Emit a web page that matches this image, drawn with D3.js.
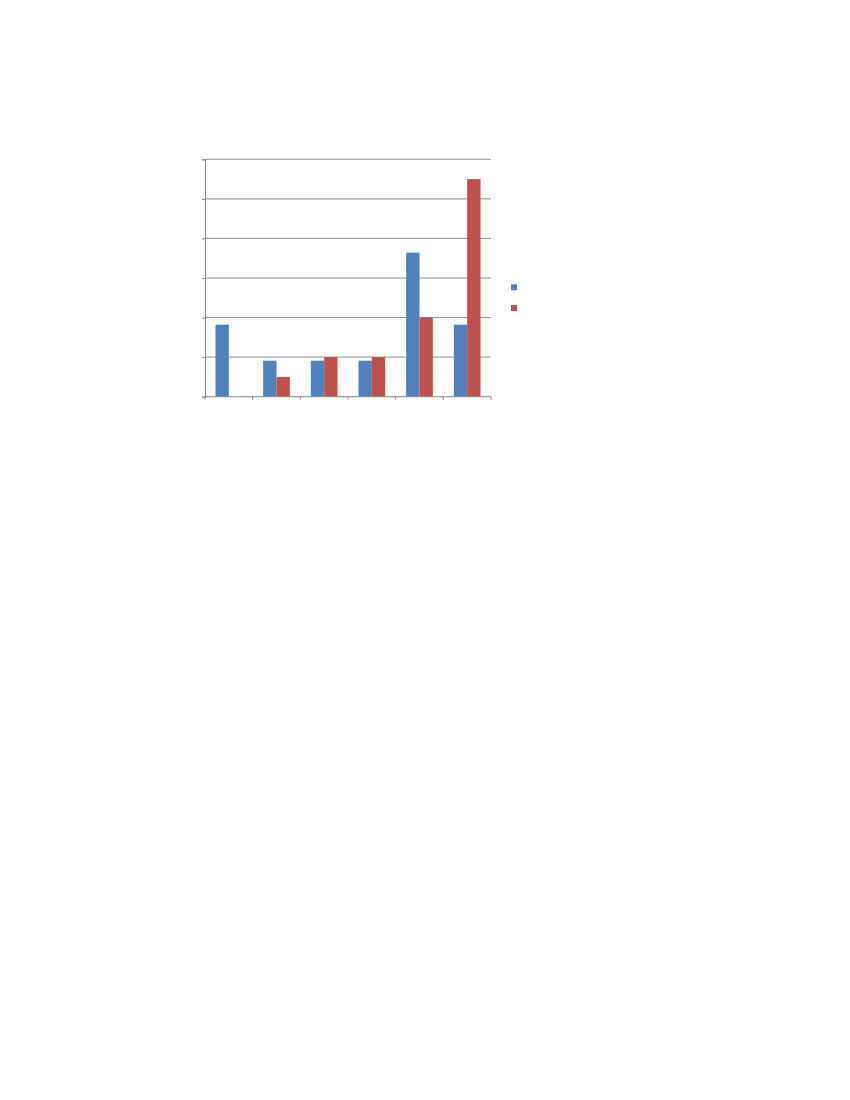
<!DOCTYPE html>
<html><head><meta charset="utf-8">
<script src="https://cdn.jsdelivr.net/npm/d3@7"></script>
<style>body{margin:0;background:#fff}svg{display:block}</style>
</head><body>
<svg id="c" width="850" height="1100"></svg>
<script>
const categories = ["c1","c2","c3","c4","c5","c6"];
const seriesNames = ["s1","s2"];
const seriesA = [18.2, 9.1, 9.1, 9.1, 36.4, 18.2];
const seriesB = [0, 5, 10, 10, 20, 55];
const yTicks = [0, 10, 20, 30, 40, 50, 60];
const colors = ["#4F81BD", "#C0504D"];

const svg = d3.select("#c");
const L = 205, R = 491, T = 159.3, B = 396.7;
const x = d3.scaleBand().domain(categories).range([L, R]).padding(0);
const bw = x.bandwidth();
const x1 = d3.scaleBand().domain(seriesNames).range([bw*0.22, bw*0.78]).padding(0);
const y = d3.scaleLinear().domain([0, 60]).range([B, T]);

// gridlines
svg.append("g").selectAll("line").data(yTicks.filter(d=>d>0)).join("line")
  .attr("x1", L).attr("x2", R).attr("y1", d=>y(d)).attr("y2", d=>y(d))
  .attr("stroke", "#8c8c8c").attr("stroke-width", 1);

// bars
const data = [seriesA, seriesB];
const g = svg.append("g");
data.forEach((vals, si) => {
  g.selectAll(".b"+si).data(categories).join("rect")
    .attr("x", c => x(c) + x1(seriesNames[si]))
    .attr("width", x1.bandwidth())
    .attr("y", (c,i) => y(vals[i]))
    .attr("height", (c,i) => B - y(vals[i]))
    .attr("fill", colors[si]);
});

// y axis
const ya = d3.axisLeft(y).tickValues(yTicks).tickSize(3).tickFormat("");
svg.append("g").attr("transform", `translate(${L},0)`).call(ya)
  .call(s => s.selectAll("line,path").attr("stroke", "#868686"));

// x axis
const xTickVals = categories.map(c => x(c)).concat([R]);
svg.append("g").selectAll("line").data(xTickVals).join("line")
  .attr("x1", d=>d).attr("x2", d=>d).attr("y1", B).attr("y2", B+3)
  .attr("stroke", "#868686");
svg.append("line").attr("x1", L).attr("x2", R).attr("y1", B).attr("y2", B)
  .attr("stroke", "#868686");

// legend
seriesNames.forEach((s, i) => {
  svg.append("rect").attr("x", 511).attr("y", 284.3 + i*20.7)
    .attr("width", 6).attr("height", 6).attr("fill", colors[i]);
});
</script>
</body></html>
